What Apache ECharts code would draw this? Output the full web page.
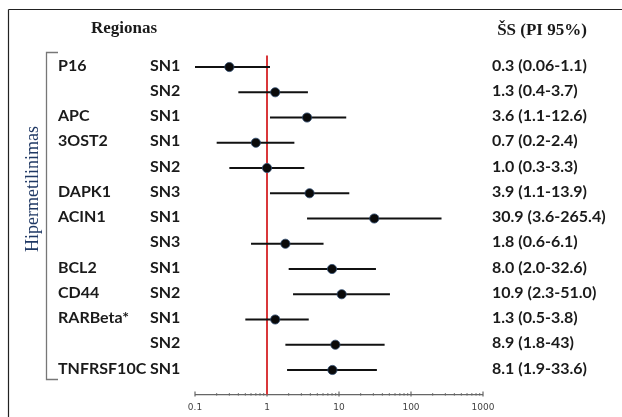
<!DOCTYPE html>
<html><head><meta charset="utf-8">
<script src="https://cdn.jsdelivr.net/npm/echarts@6/dist/echarts.min.js"></script>
<style>html,body{margin:0;padding:0;background:#fff}#c{width:622px;height:417px}</style>
</head><body><div id="c"></div>
<script>
var regions = ['P16','','APC','3OST2','','DAPK1','ACIN1','','BCL2','CD44','RARBeta*','','TNFRSF10C'];
var snLabels = ['SN1','SN2','SN1','SN1','SN2','SN3','SN1','SN3','SN1','SN2','SN1','SN2','SN1'];
var orValues = [0.3,1.3,3.6,0.7,1.0,3.9,30.9,1.8,8.0,10.9,1.3,8.9,8.1];
var ciLow = [0.06,0.4,1.1,0.2,0.3,1.1,3.6,0.6,2.0,2.3,0.5,1.8,1.9];
var ciHigh = [1.1,3.7,12.6,2.4,3.3,13.9,265.4,6.1,32.6,51.0,3.8,43,33.6];
var ciText = ['0.3 (0.06-1.1)','1.3 (0.4-3.7)','3.6 (1.1-12.6)','0.7 (0.2-2.4)','1.0 (0.3-3.3)','3.9 (1.1-13.9)','30.9 (3.6-265.4)','1.8 (0.6-6.1)','8.0 (2.0-32.6)','10.9 (2.3-51.0)','1.3 (0.5-3.8)','8.9 (1.8-43)','8.1 (1.9-33.6)'];
var majorTicks = [0.1,1,10,100,1000];
var minorTicks = [0.2,0.3,0.4,0.5,0.6,0.7,0.8,0.9,2,3,4,5,6,7,8,9,20,30,40,50,60,70,80,90,200,300,400,500,600,700,800,900];
var refValue = 1;
var rowIdx = regions.map(function(_, i){ return i; });

var chart = echarts.init(document.getElementById('c'));
var labelFont = 'Lato, "Open Sans", sans-serif';
var AXIS_OFFSET = 12;

function textEl(x, y, txt, align, size){
  return {type:'text', x:x, y:y, style:{text:txt, fill:'#1a1a1a', font:'bold '+size+'px '+labelFont, align:align||'left', verticalAlign:'middle'}};
}

chart.setOption({
  animation:false,
  grid:{left:195, right:139, top:54.4, bottom:34.4},
  xAxis:{type:'log', logBase:10, min:0.1, max:1000, offset:AXIS_OFFSET,
    axisLine:{show:false}, axisTick:{show:false}, splitLine:{show:false},
    axisLabel:{show:false}},
  yAxis:{type:'category', data:rowIdx, inverse:true, show:false},
  graphic:[
    {type:'line', shape:{x1:8.5,y1:9.5,x2:622,y2:9.5}, style:{stroke:'#222',lineWidth:1.2}},
    {type:'line', shape:{x1:8.5,y1:9.5,x2:8.5,y2:417}, style:{stroke:'#222',lineWidth:1.2}},
    {type:'polyline', shape:{points:[[58,52.5],[46.5,52.5],[46.5,379.5],[58,379.5]]}, style:{stroke:'#777',fill:null,lineWidth:1.3}},
    {type:'text', x:124, y:29, style:{text:'Regionas', font:'bold 17px "Liberation Serif", serif', fill:'#1a1a1a', align:'center', verticalAlign:'middle'}},
    {type:'text', x:542, y:31, style:{text:'ŠS (PI 95%)', font:'bold 17px "Liberation Serif", serif', fill:'#1a1a1a', align:'center', verticalAlign:'middle'}},
    {type:'text', x:33, y:189, rotation:Math.PI/2, style:{text:'Hipermetilinimas', font:'18px "Liberation Serif", serif', fill:'#1f3864', align:'center', verticalAlign:'middle'}}
  ],
  series:[
    { // axis line, ticks, labels
      type:'custom', coordinateSystem:'cartesian2d', clip:false, silent:true,
      data:[0],
      renderItem:function(params, api){
        var cs = params.coordSys;
        var yA = cs.y + cs.height + AXIS_OFFSET;
        var ch = [];
        var x0 = api.coord([majorTicks[0], 0])[0];
        var x1 = api.coord([majorTicks[majorTicks.length-1], 0])[0];
        ch.push({type:'line', shape:{x1:x0,y1:yA,x2:x1,y2:yA}, style:{stroke:'#666',lineWidth:1.2}});
        majorTicks.forEach(function(v){
          var x = api.coord([v,0])[0];
          ch.push({type:'line', shape:{x1:x,y1:yA-3,x2:x,y2:yA+2}, style:{stroke:'#666',lineWidth:1.2}});
          ch.push({type:'text', x:x, y:yA+13, style:{text:String(v), font:'9px "DejaVu Sans", sans-serif', fill:'#444', align:'center', verticalAlign:'middle'}});
        });
        minorTicks.forEach(function(v){
          var x = api.coord([v,0])[0];
          ch.push({type:'line', shape:{x1:x,y1:yA-1.5,x2:x,y2:yA+1}, style:{stroke:'#666',lineWidth:1}});
        });
        return {type:'group', children:ch};
      }
    },
    { // reference line
      type:'custom', coordinateSystem:'cartesian2d', clip:false, silent:true,
      data:[refValue],
      renderItem:function(params, api){
        var cs = params.coordSys;
        var x = api.coord([api.value(0), 0])[0];
        return {type:'line', shape:{x1:x,y1:cs.y+1,x2:x,y2:cs.y+cs.height+AXIS_OFFSET}, style:{stroke:'#d9373a',lineWidth:2}};
      }
    },
    { // CI whiskers and point
      type:'custom', coordinateSystem:'cartesian2d', clip:true,
      data:rowIdx.map(function(i){ return [orValues[i], i, ciLow[i], ciHigh[i]]; }),
      encode:{x:0,y:1},
      renderItem:function(params, api){
        var y = api.coord([1, api.value(1)])[1];
        var pl = api.coord([api.value(2), api.value(1)]);
        var ph = api.coord([api.value(3), api.value(1)]);
        var pc = api.coord([api.value(0), api.value(1)]);
        var cs = params.coordSys;
        var xl = Math.max(pl[0], cs.x);
        return {type:'group', children:[
          {type:'line', shape:{x1:xl,y1:y,x2:ph[0],y2:y}, style:{stroke:'#111',lineWidth:2.2}},
          {type:'circle', shape:{cx:pc[0],cy:y,r:4.6}, style:{fill:'#0a0a0a',stroke:'#2d4a6e',lineWidth:0.8}}
        ]};
      },
      z:5
    },
    { // text labels
      type:'custom', coordinateSystem:'cartesian2d', clip:false, silent:true,
      data:rowIdx.map(function(i){ return [1, i]; }),
      renderItem:function(params, api){
        var i = params.dataIndex;
        var y = api.coord([1, api.value(1)])[1] - 1.5;
        var ch = [];
        if (regions[i]) ch.push(textEl(58, y, regions[i], 'left', 16));
        ch.push(textEl(150, y, snLabels[i], 'left', 16));
        ch.push(textEl(492, y, ciText[i], 'left', 16));
        return {type:'group', children:ch};
      }
    }
  ]
});
</script></body></html>
